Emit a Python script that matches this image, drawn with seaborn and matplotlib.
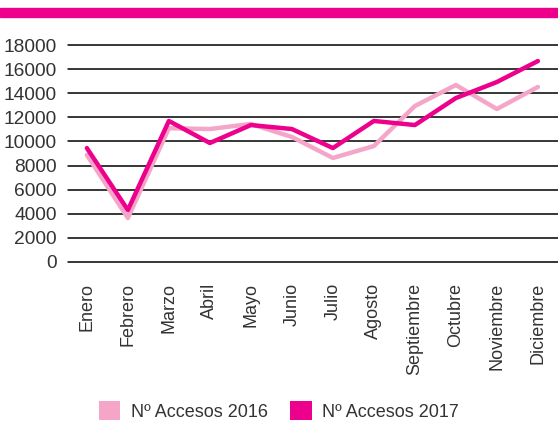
import matplotlib
matplotlib.use("Agg")
import matplotlib.pyplot as plt
import numpy as np
import pandas as pd
import seaborn as sns
from matplotlib.patches import Patch, Rectangle

meses = ["Enero", "Febrero", "Marzo", "Abril", "Mayo", "Junio", "Julio",
         "Agosto", "Septiembre", "Octubre", "Noviembre", "Diciembre"]
accesos_2016 = [8880, 3650, 11100, 11030, 11450, 10370, 8630, 9620, 12940, 14680, 12690, 14520]
accesos_2017 = [9450, 4310, 11700, 9870, 11360, 11030, 9450, 11700, 11360, 13600, 14930, 16670]
series = ["Nº Accesos 2016", "Nº Accesos 2017"]
colores = ["#F5A6C8", "#EC008C"]
yticks = list(range(0, 18001, 2000))

df = pd.DataFrame({
    "mes": list(range(len(meses))) * 2,
    "valor": accesos_2016 + accesos_2017,
    "serie": [series[0]] * len(meses) + [series[1]] * len(meses),
})

sns.set_style("white")
plt.rcParams["font.family"] = ["Liberation Sans", "DejaVu Sans"]

fig = plt.figure(figsize=(5.58, 4.25), dpi=100)
ax = fig.add_axes([68 / 558, 1 - 262 / 425, 490 / 558, 217 / 425])

# franja superior
fig.patches.append(Rectangle((0, 1 - 17 / 425), 1, 9 / 425, transform=fig.transFigure,
                             color="#EC008C", zorder=0))

for y in yticks:
    ax.axhline(y, color="black", lw=1.1, zorder=1, clip_on=False)

sns.lineplot(data=df, x="mes", y="valor", hue="serie", palette=colores,
             linewidth=3.2, legend=False, ax=ax, zorder=3)

ax.set_xlim(-0.46, 11.49)
ax.set_ylim(0, 18000)
ax.set_yticks(yticks)
ax.set_yticklabels([str(v) for v in yticks], fontsize=13.8, color="#333333")
ax.set_xticks(range(len(meses)))
ax.set_xticklabels(meses, rotation=90, fontsize=13, color="#333333")
ax.tick_params(axis="both", length=0)
ax.tick_params(axis="x", pad=15)
ax.tick_params(axis="y", pad=8)
ax.set_xlabel("")
ax.set_ylabel("")
for s in ax.spines.values():
    s.set_visible(False)

handles = [Patch(facecolor=c, edgecolor="none") for c in colores]
fig.legend(handles, series, loc="center", bbox_to_anchor=(0.5, 1 - 411 / 425),
           ncol=2, frameon=False, fontsize=13, handlelength=1.2, handleheight=1.2,
           handletextpad=0.6, columnspacing=1.2, labelcolor="#333333")

fig.savefig("out.png", dpi=100)
